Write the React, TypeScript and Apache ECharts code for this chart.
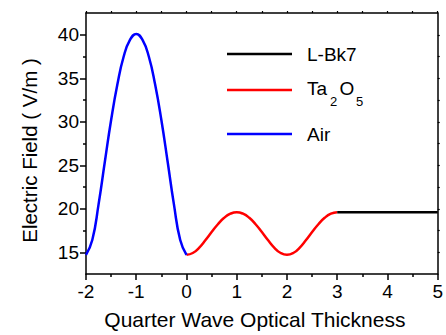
import React, { useEffect, useRef } from "react";
import * as echarts from "echarts";

// Quarter wave optical thickness positions and electric field (V/m)
const airX = [-2, -1.875, -1.75, -1.625, -1.5, -1.375, -1.25, -1.125, -1, -0.875, -0.75, -0.625, -0.5, -0.375, -0.25, -0.125, 0];
const airY = [14.7, 16.4, 20.5, 25.4, 30.2, 34.3, 37.5, 39.4, 40.1, 39.4, 37.5, 34.3, 30.2, 25.4, 20.5, 16.4, 14.7];

const taX = [0, 0.125, 0.25, 0.375, 0.5, 0.625, 0.75, 0.875, 1, 1.125, 1.25, 1.375, 1.5, 1.625, 1.75, 1.875, 2, 2.125, 2.25, 2.375, 2.5, 2.625, 2.75, 2.875, 3];
const taY = [14.7, 14.91, 15.51, 16.37, 17.32, 18.22, 18.96, 19.43, 19.6, 19.43, 18.96, 18.22, 17.32, 16.37, 15.51, 14.91, 14.7, 14.91, 15.51, 16.37, 17.32, 18.22, 18.96, 19.43, 19.6];

const bk7X = [3, 4, 5];
const bk7Y = [19.6, 19.6, 19.6];

const yMajorTicks = [15, 20, 25, 30, 35, 40];
const yMinorTicks = [17.5, 22.5, 27.5, 32.5, 37.5];
const yAllTicks = [15, 17.5, 20, 22.5, 25, 27.5, 30, 32.5, 35, 37.5, 40];

const seriesNames = ["L-Bk7", "Ta2O5", "Air"];
const seriesColors = ["#000000", "#ff0000", "#0000ff"];

const FONT = "Liberation Sans, Arial, sans-serif";

export default function App() {
  const ref = useRef<HTMLDivElement>(null);
  useEffect(() => {
    if (!ref.current) return;
    const chart = echarts.init(ref.current, null, { renderer: "svg" });
    const pair = (xs: number[], ys: number[]) => xs.map((x, i) => [x, ys[i]]);
    const axisLineStyle = { color: "#000", width: 1.5 };
    const legendY = [54, 90, 134];
    const graphics: any[] = [];
    seriesNames.forEach((n, i) => {
      graphics.push({
        type: "line",
        shape: { x1: 227, y1: legendY[i], x2: 292, y2: legendY[i] },
        style: { stroke: seriesColors[i], lineWidth: 2.5 },
      });
    });
    const ts = { fill: "#000", fontFamily: FONT, fontSize: 19, verticalAlign: "middle" };
    const sub = { fill: "#000", fontFamily: FONT, fontSize: 13, verticalAlign: "middle" };
    graphics.push({ type: "text", x: 307, y: legendY[0], style: { ...ts, text: "L-Bk7" } });
    graphics.push({ type: "text", x: 307, y: legendY[1] - 2, style: { ...ts, text: "Ta" } });
    graphics.push({ type: "text", x: 330, y: legendY[1] + 11, style: { ...sub, text: "2" } });
    graphics.push({ type: "text", x: 339.5, y: legendY[1] - 2, style: { ...ts, text: "O" } });
    graphics.push({ type: "text", x: 356, y: legendY[1] + 11, style: { ...sub, text: "5" } });
    graphics.push({ type: "text", x: 307, y: legendY[2], style: { ...ts, text: "Air" } });

    chart.setOption({
      animation: false,
      grid: { left: 86, right: 3, top: 13, bottom: 57, containLabel: false },
      xAxis: [
        {
          type: "value",
          min: -2,
          max: 5,
          interval: 1,
          name: "Quarter Wave Optical Thickness",
          nameLocation: "middle",
          nameGap: 35,
          nameTextStyle: { fontFamily: FONT, fontSize: 21, color: "#000", padding: [0, 14, 0, 0] },
          axisLine: { show: true, onZero: false, lineStyle: axisLineStyle },
          axisTick: { show: true, length: 6, lineStyle: { color: "#000", width: 1.5 } },
          minorTick: { show: true, splitNumber: 2, length: 3, lineStyle: { color: "#000", width: 1.5 } },
          axisLabel: { fontFamily: FONT, fontSize: 19, color: "#000", margin: 8, showMaxLabel: true, showMinLabel: true },
          splitLine: { show: false },
        },
        {
          type: "value",
          position: "top",
          min: -2,
          max: 5,
          interval: 1,
          axisLine: { show: true, onZero: false, lineStyle: axisLineStyle },
          axisTick: { show: true, length: 2, lineStyle: { color: "#000", width: 1.2 } },
          minorTick: { show: true, splitNumber: 2, length: 2, lineStyle: { color: "#000", width: 1.2 } },
          axisLabel: { show: false },
          splitLine: { show: false },
        },
      ],
      yAxis: [
        {
          type: "value",
          min: 12.5,
          max: 42.5,
          name: "Electric Field ( V/m )",
          nameLocation: "middle",
          nameGap: 46,
          nameTextStyle: { fontFamily: FONT, fontSize: 20.5, color: "#000", padding: [0, 0, 0, -14] },
          axisLine: { show: true, onZero: false, lineStyle: axisLineStyle },
          axisTick: { show: true, length: 6, customValues: yMajorTicks, lineStyle: { color: "#000", width: 1.5 } },
          axisLabel: { fontFamily: FONT, fontSize: 19, color: "#000", margin: 7, customValues: yMajorTicks },
          splitLine: { show: false },
        },
        {
          type: "value",
          position: "left",
          min: 12.5,
          max: 42.5,
          axisLine: { show: false, onZero: false },
          axisTick: { show: true, length: 3, customValues: yMinorTicks, lineStyle: { color: "#000", width: 1.5 } },
          axisLabel: { show: false },
          splitLine: { show: false },
        },
        {
          type: "value",
          position: "right",
          min: 12.5,
          max: 42.5,
          axisLine: { show: true, onZero: false, lineStyle: axisLineStyle },
          axisTick: { show: true, length: 2, customValues: yAllTicks, lineStyle: { color: "#000", width: 1.2 } },
          axisLabel: { show: false },
          splitLine: { show: false },
        },
      ],
      graphic: graphics,
      series: [
        {
          name: "Air",
          type: "line",
          data: pair(airX, airY),
          smooth: 0.5,
          showSymbol: false,
          lineStyle: { color: seriesColors[2], width: 2.5 },
          z: 3,
        },
        {
          name: "Ta2O5",
          type: "line",
          data: pair(taX, taY),
          smooth: 0.5,
          showSymbol: false,
          lineStyle: { color: seriesColors[1], width: 2.5 },
          z: 2,
        },
        {
          name: "L-Bk7",
          type: "line",
          data: pair(bk7X, bk7Y),
          showSymbol: false,
          lineStyle: { color: seriesColors[0], width: 2.5 },
          z: 2,
        },
      ],
    });
    return () => chart.dispose();
  }, []);
  return <div ref={ref} style={{ width: 446, height: 335, position: "absolute", left: 0, top: 0 }} />;
}
